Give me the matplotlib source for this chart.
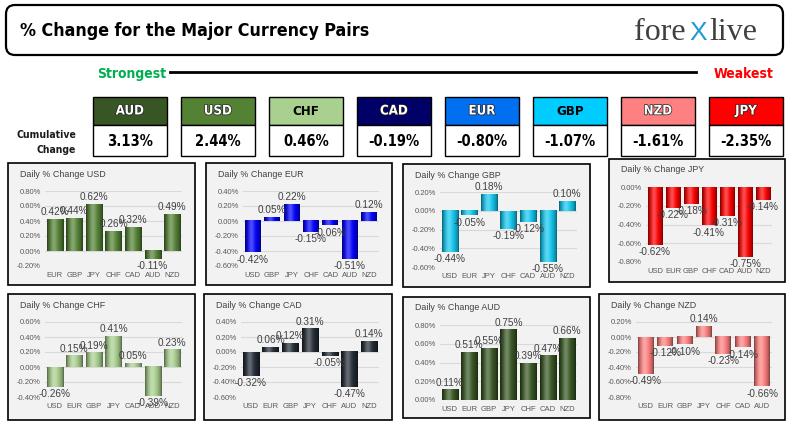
import numpy as np
import matplotlib.pyplot as plt
from matplotlib.patches import Rectangle, FancyBboxPatch
from matplotlib.colors import to_rgb
import matplotlib.patheffects as pe

W, H = 793, 428

# cumulative strength ranking
rank_ccy = ['AUD', 'USD', 'CHF', 'CAD', 'EUR', 'GBP', 'NZD', 'JPY']
rank_chg = [3.13, 2.44, 0.46, -0.19, -0.80, -1.07, -1.61, -2.35]
rank_col = ['#375623', '#548235', '#A9D08E', '#000066', '#0070F0', '#00CCFF', '#FF8080', '#FF0000']
rank_txt = ['white', 'white', 'black', 'white', 'white', 'black', 'white', 'white']

# daily % change, one list per base currency
usd_vs = ['EUR', 'GBP', 'JPY', 'CHF', 'CAD', 'AUD', 'NZD']
usd_chg = [0.42, 0.44, 0.62, 0.26, 0.32, -0.11, 0.49]
eur_vs = ['USD', 'GBP', 'JPY', 'CHF', 'CAD', 'AUD', 'NZD']
eur_chg = [-0.42, 0.05, 0.22, -0.15, -0.06, -0.51, 0.12]
gbp_vs = ['USD', 'EUR', 'JPY', 'CHF', 'CAD', 'AUD', 'NZD']
gbp_chg = [-0.44, -0.05, 0.18, -0.19, -0.12, -0.55, 0.10]
jpy_vs = ['USD', 'EUR', 'GBP', 'CHF', 'CAD', 'AUD', 'NZD']
jpy_chg = [-0.62, -0.22, -0.18, -0.41, -0.31, -0.75, -0.14]
chf_vs = ['USD', 'EUR', 'GBP', 'JPY', 'CAD', 'AUD', 'NZD']
chf_chg = [-0.26, 0.15, 0.19, 0.41, 0.05, -0.39, 0.23]
cad_vs = ['USD', 'EUR', 'GBP', 'JPY', 'CHF', 'AUD', 'NZD']
cad_chg = [-0.32, 0.06, 0.12, 0.31, -0.05, -0.47, 0.14]
aud_vs = ['USD', 'EUR', 'GBP', 'JPY', 'CHF', 'CAD', 'NZD']
aud_chg = [0.11, 0.51, 0.55, 0.75, 0.39, 0.47, 0.66]
nzd_vs = ['USD', 'EUR', 'GBP', 'JPY', 'CHF', 'CAD', 'AUD']
nzd_chg = [-0.49, -0.12, -0.10, 0.14, -0.23, -0.14, -0.66]

panels = [
    ('USD', usd_vs, usd_chg, (-0.2, 0.8), '#548235', (8, 163, 195, 285)),
    ('EUR', eur_vs, eur_chg, (-0.6, 0.4), '#0000FF', (206, 163, 392, 285)),
    ('GBP', gbp_vs, gbp_chg, (-0.6, 0.2), '#12C8F0', (403, 164, 590, 287)),
    ('JPY', jpy_vs, jpy_chg, (-0.8, 0.0), '#FF0000', (609, 159, 785, 282)),
    ('CHF', chf_vs, chf_chg, (-0.4, 0.6), '#A9D08E', (8, 294, 195, 420)),
    ('CAD', cad_vs, cad_chg, (-0.6, 0.4), '#222A35', (204, 294, 392, 420)),
    ('AUD', aud_vs, aud_chg, (0.0, 0.8), '#375623', (403, 297, 590, 418)),
    ('NZD', nzd_vs, nzd_chg, (-0.8, 0.2), '#FF8080', (599, 294, 785, 420)),
]

BOLD = dict(family='DejaVu Sans', fontstretch='condensed', fontweight='bold')
SANS = 'Liberation Sans'


def cyl(color, n=48):
    # horizontal shading to mimic excel's cylinder bars
    c = np.array(to_rgb(color))
    t = np.linspace(0, 1, n)
    shade = 0.45 + 0.55 * np.sin(np.pi * t) ** 0.6
    hi = np.exp(-((t - 0.4) / 0.2) ** 2)
    rgb = c[None, :] * shade[:, None]
    rgb = rgb + (1 - rgb) * 0.3 * hi[:, None]
    return np.clip(rgb, 0, 1)[None, :, :]


fig = plt.figure(figsize=(W / 100, H / 100), dpi=100)
ax0 = fig.add_axes([0, 0, 1, 1])
ax0.set_xlim(0, W)
ax0.set_ylim(H, 0)
ax0.axis('off')

# header
ax0.add_patch(FancyBboxPatch((6, 5), 777, 50, boxstyle='round,pad=0,rounding_size=9',
                             fc='white', ec='black', lw=1.6))
ax0.text(20, 31, '% Change for the Major Currency Pairs', fontsize=12.8, color='black',
         va='center', ha='left', **BOLD)
ax0.text(686, 40, 'fore', family='Liberation Serif', fontsize=23, color='#404040', ha='right', va='baseline')
ax0.text(698, 40, 'X', family='Liberation Sans', fontsize=19, color='#1E9AD6', ha='center', va='baseline')
ax0.text(709, 40, 'live', family='Liberation Serif', fontsize=23, color='#404040', ha='left', va='baseline')

ax0.text(97, 74, 'Strongest', color='#00B050', fontsize=10, ha='left', va='center', **BOLD)
ax0.text(773, 74, 'Weakest', color='#FF0000', fontsize=10, ha='right', va='center', **BOLD)
ax0.plot([170, 696], [72, 72], color='black', lw=2)

ax0.text(76, 135, 'Cumulative', fontsize=7.5, color='#1a1a1a', ha='right', va='center', **BOLD)
ax0.text(76, 150, 'Change', fontsize=7.5, color='#1a1a1a', ha='right', va='center', **BOLD)

for i, (ccy, chg) in enumerate(zip(rank_ccy, rank_chg)):
    x = 93 + i * 88
    ax0.add_patch(Rectangle((x, 97), 74, 28, fc=rank_col[i], ec='black', lw=1))
    ax0.add_patch(Rectangle((x, 125), 74, 31, fc='white', ec='black', lw=1))
    t = ax0.text(x + 37, 111, ccy, color=rank_txt[i], fontsize=9.5, ha='center', va='center', **BOLD)
    if rank_txt[i] == 'white':
        t.set_path_effects([pe.withStroke(linewidth=1, foreground='#202020')])
    ax0.text(x + 37, 141, f'{chg:.2f}%', color='black', fontsize=10.5, ha='center', va='center', **BOLD)

# daily panels
for base, vs, chg, (lo, hi), col, (x0, y0, x1, y1) in panels:
    ax0.add_patch(Rectangle((x0, y0), x1 - x0, y1 - y0, fc='#F2F2F2', ec='black', lw=1.2, zorder=0))
    ax0.text(x0 + 12, y0 + 11, f'Daily % Change {base}', family=SANS, fontsize=6.4,
             color='#404040', ha='left', va='center')

    left, right = x0 + 37, x1 - 13
    top, bot = y0 + 28, y0 + 103
    ax = fig.add_axes([left / W, 1 - bot / H, (right - left) / W, (bot - top) / H])
    ax.set_facecolor('none')
    for s in ax.spines.values():
        s.set_visible(False)

    wbar = 0.82
    img = cyl(col)
    for k, v in enumerate(chg):
        ax.imshow(img, extent=[k - wbar / 2, k + wbar / 2, 0, v], aspect='auto',
                  interpolation='bilinear', zorder=3)
        if v >= 0:
            ax.annotate(f'{v:.2f}%', (k, v), xytext=(0, 1.5), textcoords='offset points',
                        ha='center', va='bottom', family=SANS, fontsize=7.2, color='#404040',
                        zorder=5, annotation_clip=False)
        else:
            ax.annotate(f'{v:.2f}%', (k, v), xytext=(0, -1.5), textcoords='offset points',
                        ha='center', va='top', family=SANS, fontsize=7.2, color='#404040',
                        zorder=5, annotation_clip=False)

    ax.set_xlim(-0.5, len(vs) - 0.5)
    ax.set_ylim(lo, hi)
    ticks = np.round(np.arange(lo, hi + 0.001, 0.2), 2) + 0.0
    ax.set_yticks(ticks)
    ax.set_yticklabels([f'{t + 0.0:.2f}%' for t in ticks])
    ax.set_xticks(range(len(vs)))
    ax.set_xticklabels(vs)
    ax.tick_params(length=0, labelsize=5.5, labelcolor='#595959')
    ax.tick_params(axis='y', pad=3)
    ax.tick_params(axis='x', pad=4)
    for lab in ax.get_xticklabels() + ax.get_yticklabels():
        lab.set_family(SANS)
    ax.yaxis.grid(True, color='#D9D9D9', lw=0.8, zorder=0)
    ax.set_axisbelow(True)

fig.savefig('out.png', dpi=100)
